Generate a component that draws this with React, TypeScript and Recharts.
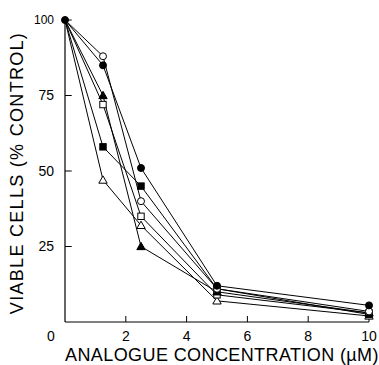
import React from 'react';
import { LineChart, Line, XAxis, YAxis, ReferenceLine } from 'recharts';

const concentrations = [0, 1.25, 2.5, 5, 10];
const filledCircle = [100, 85, 51, 12, 5.5];
const openCircle = [100, 88, 40, 11, 3.5];
const filledTriangle = [100, 75, 25, 10, 3];
const openSquare = [100, 72, 35, 9, 3];
const filledSquare = [100, 58, 45, 11, 2.5];
const openTriangle = [100, 47, 32, 7, 2];
const xTicks = [0, 2, 4, 6, 8, 10];
const yTicks = [25, 50, 75, 100];

const data = concentrations.map((c, i) => ({
  x: c,
  fc: filledCircle[i],
  oc: openCircle[i],
  ft: filledTriangle[i],
  os: openSquare[i],
  fs: filledSquare[i],
  ot: openTriangle[i],
}));

const FONT = '"Liberation Sans", Arial, sans-serif';

const makeDot = (shape: string, filled: boolean, showFirst: boolean) => (props: any) => {
  const { cx, cy, index } = props;
  if (cx == null || cy == null || (index === 0 && !showFirst)) return <g key={index} />;
  const fill = filled ? '#000' : '#fff';
  const common = { fill, stroke: '#000', strokeWidth: 1 };
  if (shape === 'circle') return <circle key={index} cx={cx} cy={cy} r={3.5} {...common} />;
  if (shape === 'square') return <rect key={index} x={cx - 3.2} y={cy - 3.2} width={6.4} height={6.4} {...common} />;
  const r = 4.2;
  return (
    <polygon
      key={index}
      points={`${cx},${cy - r} ${cx + r},${cy + r * 0.75} ${cx - r},${cy + r * 0.75}`}
      {...common}
    />
  );
};

const XTick = (props: any) => {
  const { x, y, payload } = props;
  const dx = payload.value === 0 ? -14 : 0;
  return (
    <text x={x + dx} y={y} dy="0.71em" textAnchor="middle" fontFamily={FONT} fontSize={14} fill="#000">
      {payload.value}
    </text>
  );
};

const YTick = (props: any) => {
  const { x, y, payload } = props;
  return (
    <text x={x} y={y} dy="0.35em" textAnchor="end" fontFamily={FONT} fontSize={payload.value === 100 ? 12 : 14} fill="#000">
      {payload.value}
    </text>
  );
};

const YLabel = (props: any) => {
  const vb = props.viewBox || {};
  const cx = 17;
  const cy = (vb.y || 0) + (vb.height || 0) / 2 + 2;
  return (
    <text
      x={cx}
      y={cy}
      transform={`rotate(-90, ${cx}, ${cy})`}
      textAnchor="middle"
      dominantBaseline="central"
      fontFamily={FONT}
      fontSize={18}
      letterSpacing={1.3}
      fill="#000"
    >
      VIABLE CELLS (% CONTROL)
    </text>
  );
};

const XLabel = (props: any) => {
  const vb = props.viewBox || {};
  const cx = (vb.x || 0) + (vb.width || 0) / 2 + 5;
  return (
    <text x={cx} y={361} textAnchor="middle" fontFamily={FONT} fontSize={18} letterSpacing={0.4} fill="#000">
      ANALOGUE CONCENTRATION (µM)
    </text>
  );
};

const series = [
  { key: 'ot', shape: 'triangle', filled: false },
  { key: 'fs', shape: 'square', filled: true },
  { key: 'os', shape: 'square', filled: false },
  { key: 'ft', shape: 'triangle', filled: true },
  { key: 'oc', shape: 'circle', filled: false },
  { key: 'fc', shape: 'circle', filled: true },
];

export default function App() {
  return (
    <div style={{ position: 'absolute', left: 0, top: 0, background: '#fff' }}>
      <LineChart width={379} height={365} data={data} margin={{ top: 20, right: 10, left: 0, bottom: 0 }}>
        <XAxis
          dataKey="x"
          type="number"
          domain={[0, 10]}
          ticks={xTicks}
          tickLine={false}
          tickSize={0}
          tickMargin={9}
          tick={<XTick />}
          height={43}
          stroke="#000"
          axisLine={{ stroke: '#000', strokeWidth: 1.2 }}
          label={<XLabel />}
        />
        <YAxis
          type="number"
          domain={[0, 100]}
          ticks={yTicks}
          tickLine={false}
          tickSize={0}
          tickMargin={11}
          tick={<YTick />}
          width={65}
          axisLine={{ stroke: '#000', strokeWidth: 1.2 }}
          label={<YLabel />}
        />
        {yTicks.map((t) => (
          <ReferenceLine key={'y' + t} segment={[{ x: 0, y: t }, { x: 0.22, y: t }]} stroke="#000" strokeWidth={1} />
        ))}
        {xTicks.filter((t) => t > 0).map((t) => (
          <ReferenceLine key={'x' + t} segment={[{ x: t, y: 0 }, { x: t, y: 2 }]} stroke="#000" strokeWidth={1} />
        ))}
        {series.map((s) => (
          <Line
            key={s.key}
            dataKey={s.key}
            type="linear"
            stroke="#000"
            strokeWidth={1}
            dot={makeDot(s.shape, s.filled, s.key === 'fc')}
            activeDot={false}
            isAnimationActive={false}
          />
        ))}
      </LineChart>
    </div>
  );
}
